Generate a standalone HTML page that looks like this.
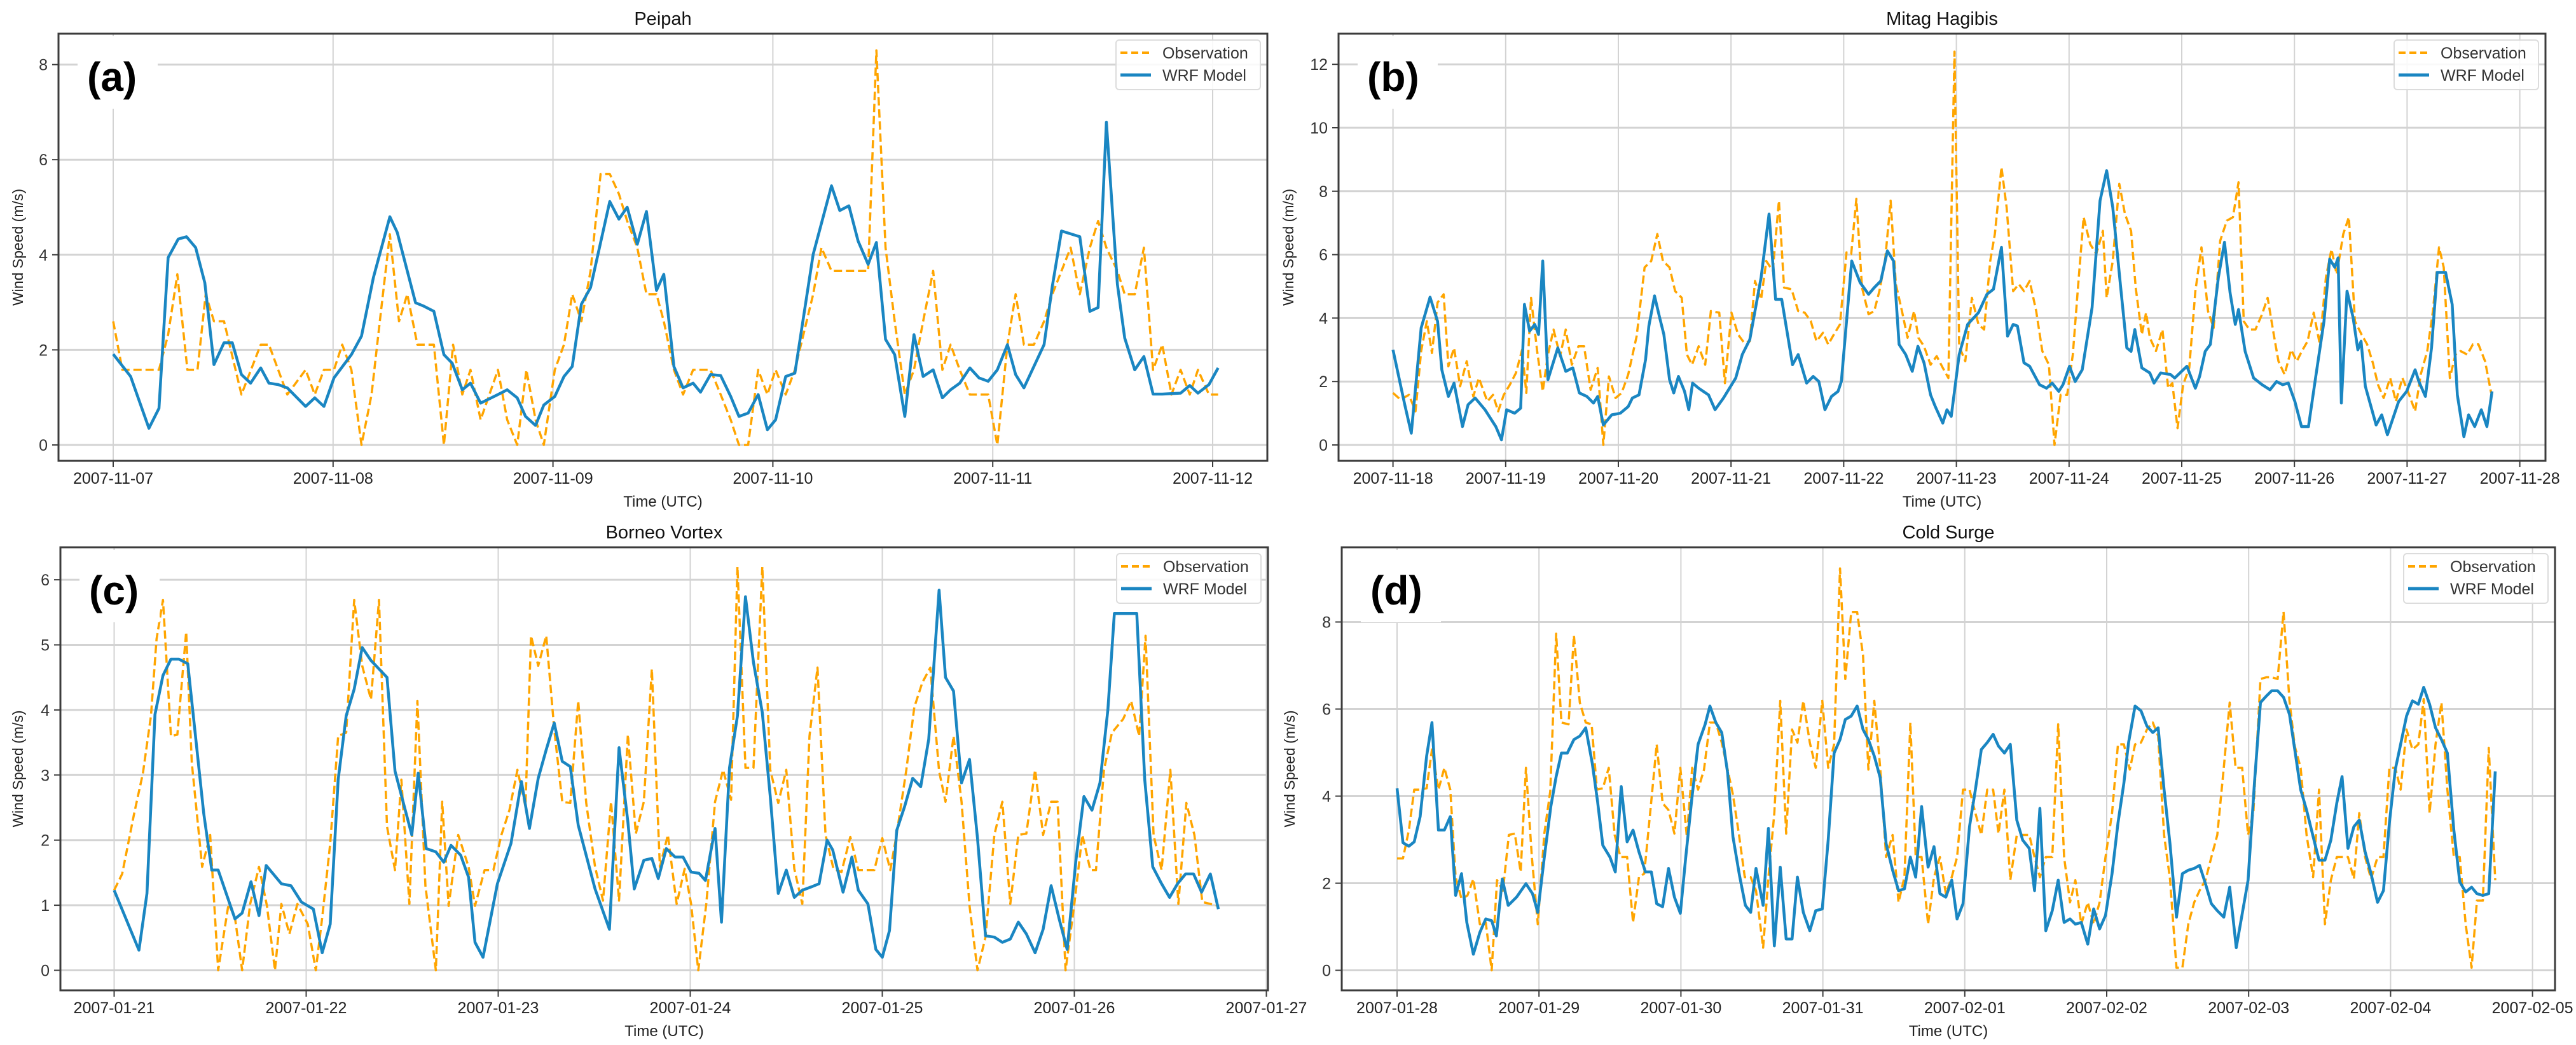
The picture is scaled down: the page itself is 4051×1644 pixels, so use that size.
<!DOCTYPE html>
<html><head><meta charset="utf-8">
<style>
html,body{margin:0;padding:0;background:#fff;}
svg{display:block;font-family:"Liberation Sans",sans-serif;}
</style></head>
<body>
<svg id="fig" xmlns="http://www.w3.org/2000/svg" width="4051" height="1644" viewBox="0 0 4051 1644"></svg>
<script>
// ---------- Panel (a) Peipah: hours since 2007-11-07 ----------
const aObsT=[0,1,2,5,6,7,8.1,9.2,10.1,11,12.1,14,16.1,17,19,21,22,23,24.1,25,26,27.1,28.2,29.1,30.2,31.2,32.1,33.2,35,36.1,37.1,38.1,39,40.1,42,43,44.1,45.1,46.1,47,48.2,49.2,50.1,51.1,52.1,53.2,54.2,55.2,56.1,57.2,58.2,59.3,60.1,61.2,62.2,63.3,65.2,66.3,67.4,68.3,69.3,70.4,71.4,72.3,73.4,74.4,76.4,77.3,78.4,82.4,83.3,84.3,85.3,86.4,87.4,88.4,89.5,90.5,91.4,92.4,93.5,95.5,96.5,97.6,98.5,99.4,100.5,101.6,102.5,104.5,105.5,106.6,107.5,108.4,109.6,110.4,111.5,112.5,113.5,114.5,115.5,116.5,117.5,118.4,119.6,120.6];
const aObsV=[2.6,1.58,1.58,1.58,2.32,3.59,1.58,1.58,3.17,2.6,2.6,1.06,2.11,2.11,1.06,1.58,1.06,1.58,1.58,2.11,1.58,0,1.06,2.6,4.43,2.6,3.17,2.11,2.11,0,2.11,1.06,1.58,0.53,1.58,0.53,0,1.58,0.53,0,1.58,2.11,3.17,2.6,3.66,5.7,5.7,5.28,4.71,4.15,3.17,3.17,2.6,1.58,1.06,1.58,1.58,1.06,0.53,0,0,1.58,1.06,1.58,1.06,1.58,3.17,4.15,3.66,3.66,8.3,4.15,2.6,1.06,1.58,2.6,3.66,1.58,2.11,1.58,1.06,1.06,0,2.11,3.17,2.11,2.11,2.6,3.17,4.15,3.17,4.15,4.71,4.15,3.66,3.17,3.17,4.15,1.58,2.11,1.06,1.58,1.06,1.58,1.06,1.06];
const aModT=[0,1.9,3.9,5,6,7.1,8,9,10,11,12.1,13,14,15,16.1,17,18,19,21,22,23,24.1,26,27.1,28.4,30.2,31,33,33.9,35,36.1,37,38.1,39,40.1,42,43,44.1,45,46.1,47,48.2,49.2,50.1,51.1,52.1,54.2,55.2,56.1,57.2,58.2,59.3,60.1,61.2,62.2,63.3,64.1,65.2,66.3,67.4,68.3,69.3,70.4,71.4,72.3,73.4,74.4,76.4,78.4,79.3,80.3,81.3,82.4,83.3,84.3,85.3,86.4,87.4,88.4,89.5,90.5,91.4,92.4,93.5,94.5,95.5,96.5,97.6,98.5,99.4,101.6,102.5,103.5,105.5,106.6,107.5,108.4,109.6,110.4,111.5,112.5,113.5,114.5,116.5,117.5,118.4,119.6,120.6];
const aModV=[1.91,1.44,0.35,0.77,3.94,4.33,4.38,4.15,3.41,1.69,2.15,2.15,1.48,1.3,1.62,1.3,1.27,1.2,0.81,0.99,0.81,1.41,1.9,2.29,3.52,4.8,4.47,2.99,2.92,2.81,1.9,1.72,1.16,1.3,0.88,1.06,1.16,0.99,0.6,0.41,0.84,1.02,1.44,1.65,2.96,3.31,5.12,4.75,5.0,4.22,4.91,3.25,3.59,1.65,1.2,1.3,1.11,1.48,1.46,1.02,0.6,0.67,1.06,0.32,0.53,1.44,1.51,4.01,5.45,4.93,5.03,4.29,3.8,4.26,2.22,1.9,0.6,2.32,1.44,1.58,0.99,1.16,1.3,1.62,1.41,1.34,1.58,2.11,1.48,1.2,2.11,3.34,4.5,4.38,2.81,2.89,6.79,3.38,2.25,1.58,1.86,1.07,1.07,1.09,1.25,1.09,1.27,1.62];
const aXTicks=["2007-11-07","2007-11-08","2007-11-09","2007-11-10","2007-11-11","2007-11-12"];
const aYTicks=[0,2,4,6,8];

// ---------- Panel (b) Mitag Hagibis: hours since 2007-11-18 ----------
const bObsT=[0,1.6,3.4,4.8,6,7.2,8.3,9.5,10.8,11.8,13,14.3,15.7,17.1,18.3,20.1,21.3,22.4,23.6,24.9,26.2,27.5,28.4,29.4,30.7,31.9,33,34.2,35.6,36.8,38.1,39.5,40.7,42.1,43.6,44.8,46,47.4,48.7,50.1,51.9,53.6,55,56.3,57.5,58.9,60.1,61.5,62.6,63.7,65.1,66.5,67.7,69.5,70.7,72.1,73.5,74.8,76,77.1,78.4,79.5,80.9,82.2,83.3,84.9,86.3,87.7,89,90.2,91.6,92.7,93.9,95.2,96.6,97.6,98.7,99.9,101.3,102.5,103.6,104.8,106,107.1,108.4,109.6,111,111.9,113.1,114.5,115.8,117.1,118.3,119.6,120.6,121.9,123.3,124.7,125.9,127.2,128.2,129.6,130.7,132.1,133.3,134.4,135.6,137,138.3,139.7,140.9,142.2,143.6,144.8,145.9,147.1,148.5,149.8,151.2,152,153.3,154.7,155.9,157.2,158.2,159.5,160.4,161.2,162.5,163.9,165.1,166,167.1,168.3,169.6,170.9,172.2,173.6,174.8,176.2,177.6,178.9,180.1,181.2,182.4,183.7,185.1,186.3,187.6,188.6,189.9,191.3,192.5,193.6,194.8,196.1,197.4,198.7,199.9,201,202.4,203.6,204.9,206.3,207.5,208.7,209.8,211,212.4,213.6,215,216.3,217.7,218.9,220.3,221.5,222.8,223.8,225.1,226.3,227.4,228.8,230,231.2,232.6,233.9];
const bObsV=[1.64,1.43,1.58,1.06,2.96,3.9,2.9,4.49,4.75,2.48,3.06,1.85,2.64,1.53,2.11,1.37,1.58,1.06,1.58,1.9,2.27,3.0,1.64,4.64,2.96,1.69,2.85,3.64,2.8,3.64,2.53,3.11,3.11,1.74,2.43,0,2.16,1.48,1.64,2.22,3.43,5.6,5.8,6.65,5.8,5.6,4.85,4.64,2.85,2.53,3.11,2.53,4.22,4.17,1.95,4.17,3.48,3.22,3.27,5.17,4.59,5.8,5.49,7.7,4.96,4.91,4.22,4.17,3.9,3.27,3.54,3.17,3.48,3.8,6.07,6.02,7.76,4.96,4.12,4.22,4.85,5.8,7.7,5.07,4.22,3.38,4.22,3.38,3.11,2.53,2.8,2.43,2.11,12.4,3.11,2.64,4.64,3.8,3.64,5.8,6.65,8.76,7.49,4.85,5.07,4.85,5.17,4.22,2.96,2.53,0,1.58,1.58,2.85,4.96,7.18,6.33,6.02,6.75,4.64,5.8,8.23,7.28,6.75,4.96,3.48,4.17,3.38,2.96,3.64,1.79,1.95,0.53,1.9,2.43,4.85,6.23,4.22,3.69,6.44,7.07,7.18,8.28,3.9,3.64,3.64,4.12,4.64,3.48,2.64,2.22,3.0,2.64,2.96,3.27,4.17,3.17,5.28,6.17,5.38,6.65,7.18,3.9,3.48,3.17,2.59,1.9,1.48,2.11,1.37,2.11,1.64,1.06,2.22,2.96,4.22,6.23,5.6,2.11,2.85,2.96,2.85,3.17,3.17,2.64,1.64];
const bModT=[0,2.5,3.9,6,7.9,9.5,10.4,11.8,13,14.8,16,17.5,19.6,21.9,23.1,24.2,25.9,27.2,28,29.1,30.2,31,31.9,33,35.1,36.8,38.3,39.7,41.3,42.7,43.6,44.8,46.6,48.4,50.1,51,52.4,53.8,54.5,55.7,56.8,57.7,58.9,59.8,60.8,62.1,63,63.8,65.1,67.2,68.6,70.4,73,74.4,76,78.4,80.1,81.5,82.8,85.1,86.3,88.1,89.5,90.7,92,93.4,94.8,95.5,97.7,99.5,101.3,102.5,103.9,105.3,106.6,107.8,109.2,110.6,111.8,113.1,114.5,115.5,117.1,118,118.9,120.6,122.4,124.7,126.5,127.9,129.6,130.9,132.1,133,134.4,135.6,137.7,139.2,140.4,141.8,142.7,144.1,145.3,146.8,148.9,150.6,152,153.3,155,156.3,157.2,158,159.5,161.2,162.1,163.5,165.6,166.5,169.1,170.9,171.8,173,174.1,175.8,177.1,178.3,179.4,180.1,181.5,183.3,185.1,186.8,188.2,189.5,190.7,192.1,193.5,195,196.5,198.3,199.5,200.6,201.3,202,203.2,204.5,205.5,206.2,207.1,209.4,210.6,211.8,214.2,215.9,217.7,218.5,219.9,221.2,222.4,224.2,225.6,226.7,228.1,229.1,230.4,231.8,233,234.1];
const bModV=[3.0,1.27,0.37,3.69,4.66,3.9,2.37,1.53,1.95,0.58,1.27,1.48,1.11,0.58,0.16,1.11,1.0,1.16,4.43,3.59,3.8,3.48,5.8,2.06,3.06,2.32,2.43,1.64,1.53,1.32,1.53,0.63,0.95,1.0,1.21,1.48,1.58,2.69,3.75,4.7,4.01,3.48,2.06,1.64,2.16,1.69,1.11,1.95,1.79,1.58,1.11,1.48,2.11,2.85,3.32,5.28,7.28,4.59,4.59,2.53,2.85,1.95,2.16,2.0,1.11,1.53,1.69,2.0,5.8,5.12,4.75,4.96,5.17,6.12,5.8,3.17,2.85,2.32,3.11,2.59,1.58,1.21,0.69,1.11,0.9,2.85,3.8,4.17,4.75,4.91,6.23,3.43,3.8,3.75,2.59,2.48,1.9,1.79,1.95,1.69,1.9,2.48,2.0,2.37,4.33,7.7,8.65,7.49,4.96,3.06,2.95,3.64,2.43,2.27,1.95,2.27,2.22,2.11,2.48,1.79,2.16,2.95,3.17,5.28,6.39,4.8,3.8,4.27,2.95,2.11,1.9,1.74,2.0,1.9,1.95,1.37,0.58,0.58,2.11,3.9,5.86,5.6,5.9,1.32,4.85,4.01,3.0,3.27,1.85,0.63,0.95,0.32,1.37,1.69,2.37,2.0,1.53,3.06,5.44,5.44,4.43,1.58,0.26,0.95,0.58,1.11,0.58,1.69];
const bXTicks=["2007-11-18","2007-11-19","2007-11-20","2007-11-21","2007-11-22","2007-11-23","2007-11-24","2007-11-25","2007-11-26","2007-11-27","2007-11-28"];
const bYTicks=[0,2,4,6,8,10,12];

// ---------- Panel (c) Borneo Vortex: hours since 2007-01-21 ----------
const cObsT=[0,1,2.5,3.6,4.6,5.3,6.1,7.1,7.9,9,9.7,11,12,13,14.3,15.1,16,17,18.1,19.1,20.1,20.9,21.9,22.9,24.2,25.2,26,27,28,29,30,31,32.1,33.1,34.1,35.1,35.9,36.9,37.9,38.9,40.2,41,41.8,43,44.3,45.1,46.3,47.4,48.4,49.4,50.4,51.4,52.1,53,54,55,56,57,58,59,60.1,61.1,62.1,63.1,64.2,65.2,66.2,67.2,68.2,69.2,70.3,71.3,72.1,73,74,75.1,76.1,77.1,77.9,78.9,79.9,81,82,83,84,85,86,86.9,87.9,88.9,89.9,90.9,92,93,94,95,96,97,97.8,99,100,101,102,103.1,103.9,104.9,105.9,106.9,107.9,108.9,110,111,112,113,114,115.1,116.1,117.1,117.9,118.9,120,121,122,122.7,123.7,124.7,126.1,127.1,128.1,128.9,129.9,130.9,132,133,134,135,136,137,138];
const cObsV=[1.23,1.48,2.41,3.03,3.91,5.09,5.69,3.6,3.62,5.2,3.19,1.59,2.08,0,1.02,0.81,0,1.02,1.59,0.99,0,1.02,0.56,1.02,0.71,0,0.81,1.95,3.6,3.65,5.69,4.68,4.16,5.69,2.21,1.54,2.93,1.02,4.14,1.3,0,2.59,0.99,2.08,1.59,0.99,1.54,1.54,2.08,2.46,3.08,2.52,5.14,4.68,5.14,3.7,2.59,2.57,4.14,2.57,1.59,1.07,2.59,1.07,3.62,2.1,2.59,4.63,1.59,2.08,1.02,1.56,1.02,0,1.02,2.59,3.08,2.62,6.2,3.11,3.11,6.2,3.08,2.57,3.08,1.56,1.02,3.6,4.65,2.08,1.56,1.51,2.05,1.54,1.54,1.54,2.03,1.54,2.1,3.08,4.04,4.42,4.65,3.06,2.59,3.6,2.59,0.99,0,0.51,2.08,2.59,1.02,2.08,2.1,3.08,2.08,2.59,2.59,0,1.02,2.08,1.54,1.54,3.08,3.65,3.86,4.14,3.6,5.14,2.08,1.54,3.08,1.02,2.57,2.08,1.05,1.02,0.99];
const cModT=[0,3.1,4.1,5.1,6.1,7.1,8.1,9.2,11.2,12.2,13,15.1,16,17.1,18.1,19,20.9,22.1,23.4,24.9,26,27,28,29,30,31,32.1,34.1,35.1,37.2,38,39,40.2,41.2,42.1,43.3,44.3,45.1,46.1,47.9,49.6,50.9,51.9,53,54,55,56,57,58,60.1,61.9,63.1,64.2,65,66.2,67.2,68,69,70.1,71.1,72.1,73.1,73.9,75.1,75.9,76.9,77.9,78.9,79.9,81,82,83,84,85,86,87.1,88.1,89.1,89.8,91.1,92.2,93,94.2,95.2,96,96.9,97.8,98.8,99.8,100.8,101.8,103.1,103.9,104.9,105.9,106.9,107.9,108.9,110,111,112,113,114,115.1,116.1,117.1,118.1,119.1,120.2,121.2,122.2,123.2,124.2,125,127.8,128.8,129.8,130.9,131.9,132.9,133.9,134.9,135.9,137,138];
const cModV=[1.23,0.31,1.18,3.93,4.53,4.78,4.78,4.71,2.41,1.54,1.54,0.79,0.88,1.36,0.84,1.61,1.33,1.3,1.05,0.94,0.27,0.71,2.93,3.91,4.32,4.96,4.76,4.5,3.06,2.08,3.03,1.87,1.82,1.66,1.92,1.77,1.43,0.43,0.2,1.33,1.95,2.9,2.18,2.95,3.39,3.8,3.21,3.13,2.23,1.25,0.63,3.42,2.28,1.25,1.69,1.72,1.41,1.87,1.74,1.74,1.51,1.49,1.38,2.18,0.74,3.11,3.91,5.74,4.73,3.96,2.67,1.18,1.54,1.12,1.23,1.28,1.33,2.0,1.85,1.2,1.74,1.23,1.02,0.32,0.2,0.61,2.15,2.52,2.95,2.82,3.55,5.84,4.5,4.29,2.88,3.24,2.03,0.53,0.51,0.43,0.48,0.74,0.56,0.27,0.63,1.3,0.79,0.32,1.69,2.67,2.46,2.88,4.01,5.48,5.48,2.93,1.59,1.33,1.12,1.33,1.48,1.48,1.2,1.48,0.94];
const cXTicks=["2007-01-21","2007-01-22","2007-01-23","2007-01-24","2007-01-25","2007-01-26","2007-01-27"];
const cYTicks=[0,1,2,3,4,5,6];

// ---------- Panel (d) Cold Surge: hours since 2007-01-28 ----------
const dObsT=[0,1,2,2.9,3.9,5,5.9,7,8,9,9.9,10.9,11.9,12.9,14,15,16,16.9,17.9,18.9,19.9,20.9,21.8,22.8,23.8,24.9,25.9,26.9,27.8,29,29.9,30.9,31.9,32.9,33.8,34.8,35.8,36.8,37.8,38.9,39.9,40.9,41.8,42.8,43.9,44.9,45.9,46.9,47.9,49,49.9,50.9,51.9,52.9,53.9,54.9,55.9,56.8,57.8,58.8,59.8,60.7,61.9,62.8,63.8,64.8,65.8,66.8,67.7,68.7,69.8,70.8,71.9,72.9,73.9,74.9,75.8,76.8,77.8,78.8,79.7,80.7,81.7,82.7,83.8,84.8,85.8,86.8,87.7,88.7,89.8,90.8,91.8,92.8,93.8,94.7,95.7,96.8,97.8,98.8,99.8,100.8,101.7,102.7,103.7,104.8,105.8,106.9,107.8,108.7,109.7,110.8,111.8,112.8,113.8,114.7,115.7,116.8,117.8,118.8,119.8,120.9,121.9,122.9,123.9,124.8,125.8,126.8,127.8,128.7,129.7,130.7,131.8,132.8,133.8,134.8,135.7,136.7,137.7,138.7,139.8,140.8,141.8,142.9,143.9,144.8,146,147,147.9,148.9,149.9,150.9,151.8,152.8,153.8,154.9,155.9,156.9,157.9,158.9,159.8,160.8,161.8,162.7,163.7,164.7,165.8,166.8,167.8,168.8,169.7,170.7,171.7,172.7,173.6,174.6,175.6,176.6,177.6,178.7,179.7,180.7,181.7,182.6,183.6,184.6,185.7];
const dObsV=[2.57,2.57,3.22,4.15,4.15,4.18,5.07,4.15,4.65,4.15,2.14,1.64,1.72,2.1,1.06,1.1,0,2.07,1.83,3.11,3.14,2.26,4.65,2.6,1.06,3.14,4.11,7.73,5.69,5.65,7.69,6.15,5.69,5.65,4.15,4.18,4.65,3.11,2.6,2.6,1.1,2.14,2.22,3.61,5.19,3.84,3.68,3.14,4.65,3.07,4.65,4.15,4.61,5.69,5.69,5.23,4.61,4.03,3.14,2.14,2.14,1.83,0.52,2.14,3.61,6.19,3.14,5.53,5.23,6.19,5.23,4.65,6.19,4.65,5.19,9.23,6.69,8.23,8.23,7.23,4.61,6.19,4.65,2.6,3.11,1.56,2.14,5.69,2.6,2.6,1.06,2.14,2.6,1.76,2.14,2.6,4.15,4.15,3.61,3.11,4.15,4.15,3.14,4.15,2.07,3.11,3.11,3.11,2.6,2.14,2.6,2.6,5.65,2.6,1.56,2.07,1.06,1.56,1.06,1.56,2.6,3.61,5.19,5.19,4.61,5.19,5.23,5.53,5.69,5.38,3.11,2.1,0.06,0.06,1.06,1.56,1.83,2.07,2.6,3.11,4.65,6.15,4.65,4.65,3.11,3.61,6.69,6.73,6.73,6.69,8.23,6.19,5.15,4.65,3.11,2.14,4.15,1.06,2.07,2.6,2.6,2.6,2.1,3.61,2.6,2.1,2.6,2.6,4.65,4.65,4.15,5.53,5.07,5.19,6.23,3.61,5.19,6.15,4.15,2.6,2.6,1.06,0.06,1.6,1.6,5.11,2.07];
const dModT=[0,1,2,2.9,3.9,5,5.9,7,8,9,9.9,10.9,11.8,12.9,14,15,16,16.8,17.8,18.8,20.2,21.8,22.9,23.8,24.9,26,26.9,27.8,28.8,29.9,30.9,31.9,33,33.9,34.8,36,36.9,37.9,38.9,39.9,40.9,42,43,43.9,44.9,45.9,46.9,47.9,48.8,49.8,50.9,52.1,52.9,53.9,54.9,55.9,56.8,57.9,58.9,59.8,60.7,61.9,62.8,63.8,64.8,65.8,66.8,67.7,68.7,69.8,70.8,71.9,72.9,73.9,74.9,75.8,76.8,77.8,78.8,79.7,80.7,81.7,82.7,83.8,84.8,85.8,86.8,87.7,88.7,89.8,90.8,91.8,92.8,93.8,94.7,95.7,96.8,97.8,98.8,99.8,100.8,101.7,102.7,103.7,104.8,105.8,106.9,107.8,108.7,109.7,110.8,111.8,112.8,113.8,114.7,115.7,116.8,117.8,118.8,119.8,120.9,121.9,122.9,123.7,124.8,125.8,126.8,127.8,128.7,129.7,130.7,131.8,132.8,133.8,134.8,135.7,136.7,137.7,138.7,139.8,140.8,141.9,142.9,143.9,145,146,147,147.9,148.9,149.9,150.9,151.8,152.8,153.8,154.9,155.9,156.9,157.9,158.9,159.8,160.8,161.8,162.7,163.7,164.7,165.8,166.8,167.8,168.8,169.7,170.7,171.7,172.7,173.6,174.6,175.6,176.6,177.6,178.7,179.7,180.7,181.7,182.6,183.6,184.6,185.7];
const dModV=[4.18,2.93,2.85,2.95,3.53,4.92,5.69,3.22,3.22,3.53,1.72,2.22,1.1,0.37,0.87,1.18,1.14,0.79,2.1,1.49,1.68,1.99,1.76,1.33,2.6,3.76,4.45,4.99,4.99,5.3,5.38,5.57,4.76,3.88,2.87,2.6,2.26,4.22,2.95,3.22,2.72,2.26,2.26,1.53,1.46,2.34,1.68,1.31,2.57,3.88,5.19,5.65,6.07,5.69,5.46,4.53,3.07,2.18,1.49,1.33,2.34,1.49,3.26,0.56,2.37,0.72,0.72,2.14,1.33,0.91,1.37,1.41,2.99,4.99,5.3,5.76,5.84,6.07,5.53,5.3,4.92,4.42,2.91,2.3,1.83,1.87,2.6,2.14,3.76,2.37,2.84,1.76,1.68,2.07,1.18,1.53,3.3,4.15,5.07,5.23,5.42,5.15,4.99,5.19,3.45,2.99,2.8,1.83,3.72,0.91,1.37,2.07,1.1,1.18,1.06,1.1,0.6,1.41,0.95,1.26,2.22,3.38,4.3,5.23,6.07,5.96,5.61,5.46,5.57,4.15,2.91,1.22,2.22,2.3,2.34,2.41,1.99,1.53,1.37,1.22,1.91,0.52,1.29,2.07,4.34,6.15,6.3,6.42,6.42,6.27,5.88,5.07,4.15,3.68,3.07,2.53,2.53,2.99,3.84,4.45,2.8,3.3,3.45,2.72,2.22,1.56,1.83,3.38,4.61,5.19,5.84,6.19,6.11,6.5,6.11,5.57,5.3,4.99,3.22,2.03,1.8,1.91,1.76,1.72,1.76,4.57];
const dXTicks=["2007-01-28","2007-01-29","2007-01-30","2007-01-31","2007-02-01","2007-02-02","2007-02-03","2007-02-04","2007-02-05"];
const dYTicks=[0,2,4,6,8];

const NS="http://www.w3.org/2000/svg";
const svg=document.getElementById('fig');
function mk(tag,attrs,parent){const e=document.createElementNS(NS,tag);for(const k in attrs)e.setAttribute(k,attrs[k]);(parent||svg).appendChild(e);return e;}

function panel(cfg){
  const g=mk('g',{});
  
  
  const L=cfg.left,R=cfg.right,T=cfg.top,B=cfg.bottom;
  const xOf=h=>cfg.x0+h/24*cfg.pxDay;
  const yOf=v=>cfg.y0-v*cfg.pxUnit;
  // grid
  cfg.yTicks.forEach(v=>{
    const l=mk('line',{x1:L,x2:R,y1:yOf(v),y2:yOf(v),stroke:'#d3d3d3','stroke-width':3},g);
    
    
  });
  cfg.xTicks.forEach((t,i)=>{
    const x=xOf(i*24);
    if(x<=R+1){
      const l=mk('line',{x1:x,x2:x,y1:T,y2:B,stroke:'#d3d3d3','stroke-width':2},g);
      
      
    }
  });
  // series
  const pts=(T_,V_)=>T_.map((h,i)=>xOf(h).toFixed(1)+','+yOf(V_[i]).toFixed(1)).join(' ');
  const clipId='clip-'+cfg.id;
  const cp=mk('clipPath',{id:clipId},g);mk('rect',{x:L,y:T,width:R-L,height:B-T},cp);
  const ob=mk('polyline',{points:pts(cfg.obsT,cfg.obsV),fill:'none',stroke:'#ffa500','stroke-width':3.5,'stroke-dasharray':'13,6','stroke-linejoin':'round','clip-path':'url(#'+clipId+')'},g);
  
  
  const md=mk('polyline',{points:pts(cfg.modT,cfg.modV),fill:'none',stroke:'#1a86c2','stroke-width':4.5,'stroke-linejoin':'round','clip-path':'url(#'+clipId+')'},g);
  
  
  // panel letter with white background
  mk('rect',{x:L+30,y:T+4,width:126,height:114,fill:'#fff'},g);
  const pl=mk('text',{x:L+45,y:T+90,'font-size':64,'font-weight':'bold',fill:'#000'},g);
  pl.textContent='('+cfg.id+')';
  
  
  // frame
  const fr=mk('rect',{x:L,y:T,width:R-L,height:B-T,fill:'none',stroke:'#3c3c3c','stroke-width':3},g);
  
  
  // y ticks
  cfg.yTicks.forEach(v=>{
    mk('line',{x1:L-10,x2:L,y1:yOf(v),y2:yOf(v),stroke:'#3c3c3c','stroke-width':2},g);
    const t=mk('text',{x:L-17,y:yOf(v)+9,'font-size':25,'text-anchor':'end',fill:'#333'},g);
    t.textContent=v;
    
    
  });
  // x ticks
  cfg.xTicks.forEach((lab,i)=>{
    const x=xOf(i*24);
    mk('line',{x1:x,x2:x,y1:B,y2:B+10,stroke:'#3c3c3c','stroke-width':2},g);
    const t=mk('text',{x:x,y:B+36,'font-size':25,'text-anchor':'middle',fill:'#222'},g);
    t.textContent=lab;
    
    
  });
  // axis titles
  const xt=mk('text',{x:(L+R)/2,y:B+72,'font-size':24,'text-anchor':'middle',fill:'#222'},g);
  xt.textContent='Time (UTC)';
  
  
  const yc=(T+B)/2, yx=cfg.ylabX;
  const yt=mk('text',{x:yx,y:yc,'font-size':23,'text-anchor':'middle',fill:'#222',transform:'rotate(-90 '+yx+' '+yc+')'},g);
  yt.textContent='Wind Speed (m/s)';
  
  
  const tt=mk('text',{x:(L+R)/2,y:T-14,'font-size':29,'text-anchor':'middle',fill:'#111'},g);
  tt.textContent=cfg.title;
  
  
  // legend
  const lg=mk('g',{},g);
  
  
  const lx=R-238, ly=T+10;
  mk('rect',{x:lx,y:ly,width:227,height:78,rx:5,fill:'#fff','fill-opacity':0.85,stroke:'#dcdcdc','stroke-width':2},lg);
  mk('line',{x1:lx+7,x2:lx+55,y1:ly+20,y2:ly+20,stroke:'#ffa500','stroke-width':4,'stroke-dasharray':'11,6'},lg);
  mk('line',{x1:lx+7,x2:lx+55,y1:ly+55,y2:ly+55,stroke:'#1a86c2','stroke-width':5},lg);
  const e1=mk('text',{x:lx+73,y:ly+29,'font-size':25,fill:'#333'},lg);e1.textContent='Observation';
  
  
  const e2=mk('text',{x:lx+73,y:ly+64,'font-size':25,fill:'#333'},lg);e2.textContent='WRF Model';
  
  
}

panel({id:'a',title:'Peipah',left:92,right:1993,top:53,bottom:725,x0:178,pxDay:345.8,y0:700,pxUnit:74.8,ylabX:36,xTicks:aXTicks,yTicks:aYTicks,obsT:aObsT,obsV:aObsV,modT:aModT,modV:aModV});
panel({id:'b',title:'Mitag Hagibis',left:2105,right:4003,top:53,bottom:725,x0:2190.6,pxDay:177.2,y0:700,pxUnit:49.9,ylabX:2034,xTicks:bXTicks,yTicks:bYTicks,obsT:bObsT,obsV:bObsV,modT:bModT,modV:bModV});
panel({id:'c',title:'Borneo Vortex',left:95,right:1994,top:861,bottom:1558,x0:179.5,pxDay:302,y0:1526.5,pxUnit:102.4,ylabX:36,xTicks:cXTicks,yTicks:cYTicks,obsT:cObsT,obsV:cObsV,modT:cModT,modV:cModV});
panel({id:'d',title:'Cold Surge',left:2110,right:4018,top:861,bottom:1558,x0:2197,pxDay:223.2,y0:1526.5,pxUnit:68.5,ylabX:2036,xTicks:dXTicks,yTicks:dYTicks,obsT:dObsT,obsV:dObsV,modT:dModT,modV:dModV});
</script>
</body></html>
